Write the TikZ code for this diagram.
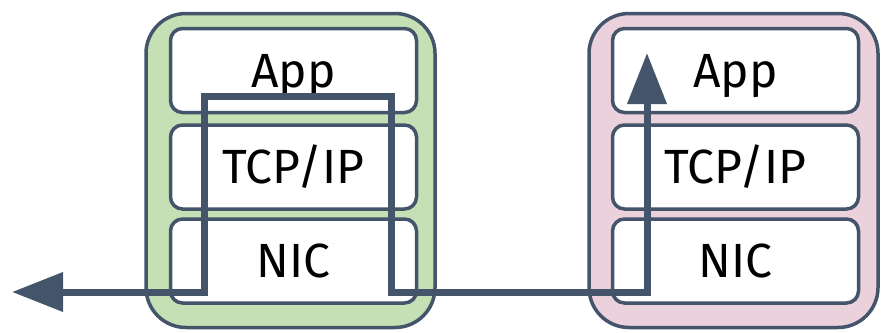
\documentclass[tikz,border=0pt]{standalone}
\usepackage{fontspec}
\setmainfont{Fira Sans}
\usetikzlibrary{arrows.meta}
\definecolor{slate}{HTML}{44546A}
\definecolor{hostgreen}{HTML}{C5E0B4}
\definecolor{hostpink}{HTML}{EAD1DC}
\tikzset{
	host/.style={draw=slate, line width=3.5pt, rounded corners=40pt, minimum width=289pt, minimum height=314pt, inner sep=0pt},
	layer/.style={draw=slate, fill=white, line width=3.5pt, rounded corners=12pt, minimum width=246pt, minimum height=84pt, inner sep=0pt,
		font=\fontsize{48}{58}\selectfont, text height=33pt, text depth=0pt},
	flow/.style={draw=slate, line width=7pt, {Triangle[length=51pt, width=38pt]}-{Triangle[length=51pt, width=38pt]}}
}

\begin{document}
\begin{tikzpicture}[x=1pt, y=-1pt]

	\useasboundingbox (0,0) rectangle (885,332);

	% hosts
	\node[host, fill=hostgreen] (sender) at (290.5,170.5) {};
	\node[host, fill=hostpink] (receiver) at (733.5,170.5) {};

	\node[layer] (sApp) at (293.5,70.5) {App};
	\node[layer] (sTcp) at (293.5,167) {TCP/IP};
	\node[layer] (sNic) at (293.5,261) {NIC};

	\node[layer] (rApp) at (735.5,70.5) {App};
	\node[layer] (rTcp) at (735.5,167) {TCP/IP};
	\node[layer] (rNic) at (735.5,261) {NIC};

	% packet path
	\coordinate (wire) at (12,292);
	\coordinate (loopBL) at (204,292);
	\coordinate (loopTL) at (204,96);
	\coordinate (loopTR) at (391,96);
	\coordinate (loopBR) at (391,292);
	\coordinate (rxB) at (647,292);
	\coordinate (rxT) at (647,53);

	\draw[flow] (wire) -- (loopBL) -- (loopTL) -- (loopTR) -- (loopBR) -- (rxB) -- (rxT);

\end{tikzpicture}
\end{document}
